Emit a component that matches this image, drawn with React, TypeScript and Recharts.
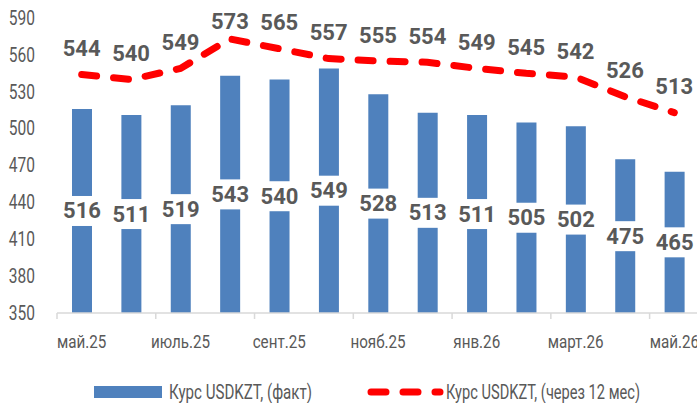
import React from 'react';
import { ComposedChart, Bar, Line, XAxis, YAxis, LabelList } from 'recharts';

const months = ['май.25', 'июнь.25', 'июль.25', 'авг.25', 'сент.25', 'окт.25', 'нояб.25', 'дек.25', 'янв.26', 'февр.26', 'март.26', 'апр.26', 'май.26'];
const factRate = [516, 511, 519, 543, 540, 549, 528, 513, 511, 505, 502, 475, 465];
const forecastRate = [544, 540, 549, 573, 565, 557, 555, 554, 549, 545, 542, 526, 513];
const yTicks = [350, 380, 410, 440, 470, 500, 530, 560, 590];
const legendNames = ['Курс USDKZT, (факт)', 'Курс USDKZT, (через 12 мес)'];

const data = months.map((m, i) => ({ month: m, fact: factRate[i], forecast: forecastRate[i] }));

const FONT = "Roboto, 'Liberation Sans', sans-serif";
const GREY = '#595959';
const BLUE = '#4F81BD';
const RED = '#FF0000';

// label box centred in the bar, white backing hides the bar behind the number
const BarValue = (props: any) => {
  const { x, y, width, height, value } = props;
  const cx = x + width / 2;
  const cy = y + height / 2;
  return (
    <g>
      <rect x={cx - 22} y={cy - 15} width={44} height={30} fill="#fff" />
      <text x={cx} y={cy} textAnchor="middle" dominantBaseline="central" fill={GREY}
        fontFamily={FONT} fontWeight={700} fontSize={22}>{value}</text>
    </g>
  );
};

// line labels sit above the point, pushed down when they would leave the chart top
const LineValue = (props: any) => {
  const { x, y, value } = props;
  const ty = Math.max(y - 26, 21);
  return (
    <text x={x} y={ty} textAnchor="middle" dominantBaseline="central" fill={GREY}
      fontFamily={FONT} fontWeight={700} fontSize={22}>{value}</text>
  );
};

// narrow look of the original font: squeeze the glyphs horizontally
const MonthTick = (props: any) => {
  const { x, y, payload } = props;
  const half = 642 / months.length / 2;
  return (
    <g>
      <line x1={x - half} x2={x - half} y1={y} y2={y + 6} stroke="#d9d9d9" strokeWidth={1.5} />
      <text transform={`translate(${x},${y + 28}) scale(0.8,1)`} textAnchor="middle" dominantBaseline="central"
        fill={GREY} fontFamily={FONT} fontSize={19}>{payload.value}</text>
    </g>
  );
};

const ValueTick = (props: any) => {
  const { x, y, payload } = props;
  return (
    <text transform={`translate(${x},${y}) scale(0.74,1)`} textAnchor="end" dominantBaseline="central"
      fill={GREY} fontFamily={FONT} fontSize={21}>{payload.value}</text>
  );
};

export default function App() {
  return (
    <div style={{ position: 'absolute', left: 0, top: 0, width: 697, height: 403, overflow: 'hidden', background: '#fff' }}>
      <ComposedChart width={700} height={403} data={data} margin={{ top: 18, right: 1, bottom: 0, left: 0 }}>
        <XAxis dataKey="month" interval={1} tickLine={false} tickSize={0} tickMargin={0} height={90}
          axisLine={{ stroke: '#d9d9d9', strokeWidth: 1.5 }} tick={<MonthTick />} />
        <YAxis domain={[350, 590]} ticks={yTicks} width={57} axisLine={false} tickLine={false} tickSize={0} tickMargin={22}
          tick={<ValueTick />} />
        <Bar dataKey="fact" fill={BLUE} barSize={20} isAnimationActive={false}>
          <LabelList dataKey="fact" content={<BarValue />} />
        </Bar>
        <Line type="linear" dataKey="forecast" stroke={RED} strokeWidth={7} strokeLinecap="round"
          strokeDasharray="15 17" dot={false} activeDot={false} isAnimationActive={false}>
          <LabelList dataKey="forecast" content={<LineValue />} />
        </Line>
      </ComposedChart>
      <svg style={{ position: 'absolute', left: 0, top: 380 }} width={697} height={24}>
        <rect x={94} y={6} width={68} height={12} fill={BLUE} />
        <text x={169} y={12} dominantBaseline="central" fill={GREY} fontFamily={FONT} fontSize={20}
          textLength={143} lengthAdjust="spacingAndGlyphs">{legendNames[0]}</text>
        <line x1={371} x2={440} y1={12} y2={12} stroke={RED} strokeWidth={7} strokeLinecap="round" strokeDasharray="15 17" />
        <text x={446} y={12} dominantBaseline="central" fill={GREY} fontFamily={FONT} fontSize={20}
          textLength={194} lengthAdjust="spacingAndGlyphs">{legendNames[1]}</text>
      </svg>
    </div>
  );
}
